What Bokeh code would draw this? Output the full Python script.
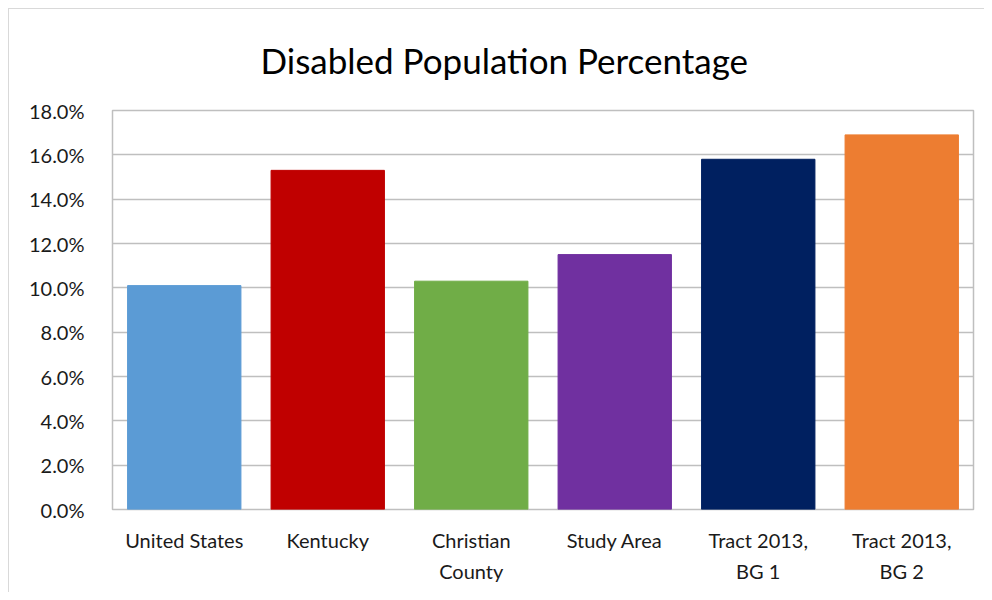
from bokeh.plotting import figure
from bokeh.models import (ColumnDataSource, FactorRange, NumeralTickFormatter, SingleIntervalTicker,
                          Range1d, CategoricalAxis, CustomJSTickFormatter)
from bokeh.embed import file_html
from bokeh.resources import INLINE

categories = ["United States", "Kentucky", "Christian County", "Study Area", "Tract 2013, BG 1", "Tract 2013, BG 2"]
label_line1 = ["United States", "Kentucky", "Christian", "Study Area", "Tract 2013,", "Tract 2013,"]
label_line2 = ["", "", "County", "", "BG 1", "BG 2"]
values = [0.101, 0.153, 0.103, 0.115, 0.158, 0.169]
colors = ["#5B9BD5", "#C00000", "#70AD47", "#7030A0", "#002060", "#ED7D31"]

src = ColumnDataSource(dict(cat=categories, val=values, color=colors))

FONT = "Lato"

p = figure(width=976, height=584, x_range=FactorRange(*categories, range_padding=0),
           y_range=Range1d(0, 0.18), output_backend="svg", toolbar_location=None,
           min_border_left=103, min_border_right=12, min_border_top=101, min_border_bottom=84)

p.vbar(x="cat", top="val", width=0.79, color="color", source=src)

p.title.text = "Disabled Population Percentage"
p.title.text_font = FONT
p.title.text_font_size = "35px"
p.title.text_font_style = "normal"
p.title.text_color = "#000000"
p.title.align = "left"
p.title.vertical_align = "top"
p.title.offset = 148
p.title.standoff = 56

p.outline_line_color = "#bfbfbf"
p.outline_line_width = 1.5

p.yaxis.ticker = SingleIntervalTicker(interval=0.02)
p.yaxis.formatter = NumeralTickFormatter(format="0.0%")
p.yaxis.axis_line_color = None
p.yaxis.major_tick_line_color = None
p.yaxis.minor_tick_line_color = None
p.yaxis.major_label_text_font = FONT
p.yaxis.major_label_text_font_size = "20px"
p.yaxis.major_label_text_color = "#1a1a1a"
p.yaxis.major_label_standoff = 22


def style_x(ax, lines, standoff):
    ax.axis_line_color = None
    ax.major_tick_line_color = None
    ax.minor_tick_line_color = None
    ax.major_tick_out = 0
    ax.major_tick_in = 0
    ax.major_label_text_font = FONT
    ax.major_label_text_font_size = "20px"
    ax.major_label_text_color = "#1a1a1a"
    ax.major_label_standoff = standoff
    ax.formatter = CustomJSTickFormatter(args=dict(m=dict(zip(categories, lines))),
                                         code="return (tick in m) ? m[tick] : tick;")


style_x(p.xaxis[0], label_line1, 18)
ax2 = CategoricalAxis()
style_x(ax2, label_line2, 4)
p.add_layout(ax2, "below")

p.xgrid.grid_line_color = None
p.ygrid.grid_line_color = "#bfbfbf"
p.ygrid.grid_line_width = 1.5

p.styles = {"border-left": "1.5px solid #d9d9d9", "border-top": "1.5px solid #d9d9d9",
            "margin-left": "8px", "margin-top": "8px"}

open("out.html", "w").write(file_html(p, INLINE))
